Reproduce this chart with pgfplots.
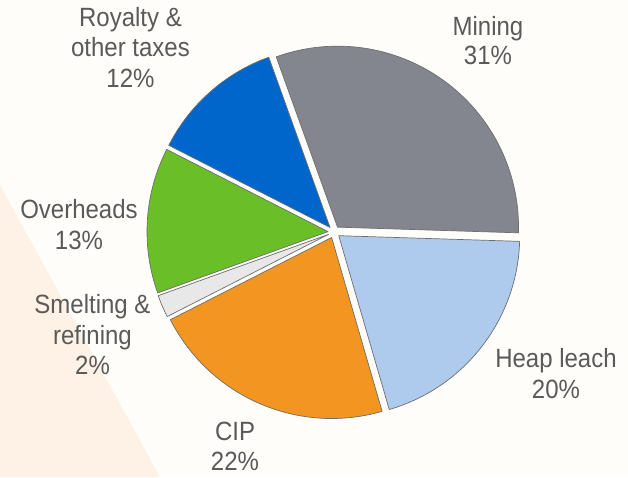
\documentclass[border=0pt]{standalone}
\usepackage{pgfplots}
\pgfplotsset{compat=1.18}
\usepackage{pgfplotstable}
\usepackage{fontspec}
\setmainfont{Liberation Sans}
\definecolor{bgcol}{HTML}{FFFDF9}
\definecolor{peach}{HTML}{FEF1E6}
\definecolor{txt}{HTML}{5A5A5A}
\definecolor{edgegray}{HTML}{6E6E6E}
\definecolor{cMining}{HTML}{83868F}
\definecolor{cHeap}{HTML}{AECBEE}
\definecolor{cCIP}{HTML}{F39621}
\definecolor{cSmelt}{HTML}{E8E8E8}
\definecolor{cOver}{HTML}{6ABF28}
\definecolor{cRoy}{HTML}{0066CC}
\tikzset{lbl/.style={anchor=base, text=txt, font=\fontsize{24}{29}\selectfont, inner sep=0pt, yscale=1.1, transform shape}}

\pgfplotstableread{
value color
31 cMining
20 cHeap
22 cCIP
2 cSmelt
13 cOver
12 cRoy
}\piedata

\begin{document}
\begin{tikzpicture}
\useasboundingbox (0,0) rectangle (628pt,477pt);
\fill[bgcol] (0,0) rectangle (628pt,477pt);
\fill[peach] (0pt,292pt) -- (160pt,0pt) -- (0pt,0pt) -- cycle;
\begin{axis}[
  at={(0,0)}, anchor=south west,
  scale only axis, width=628pt, height=477pt,
  xmin=0, xmax=628, ymin=0, ymax=477, y dir=reverse,
  hide axis, clip=false,
]
\pgfmathsetmacro\angstart{109.8}
\pgfplotsforeachungrouped \i in {0,...,5}{%
  \pgfplotstablegetelem{\i}{value}\of\piedata \let\val\pgfplotsretval
  \pgfplotstablegetelem{\i}{color}\of\piedata \let\col\pgfplotsretval
  \pgfmathsetmacro\angend{\angstart-3.6*\val}%
  \pgfmathsetmacro\midang{(\angstart+\angend)/2}%
  \pgfmathsetmacro\ox{334+6*cos(\midang)}%
  \pgfmathsetmacro\oy{232-6*sin(\midang)}%
  \edef\cmd{\noexpand\addplot[fill=\col, draw=edgegray, line width=0.7pt, line join=round, domain=\angend:\angstart, samples=80] ({\ox+181*cos(x)},{\oy-181*sin(x)}) -- (axis cs:\ox,\oy) -- cycle;}%
  \cmd
  \global\let\angstart\angend
}
\node[lbl] at (axis cs:130.5,26.7) {Royalty \&};
\node[lbl] at (axis cs:130.5,56.7) {other taxes};
\node[lbl] at (axis cs:130.5,87) {12\%};
\node[lbl] at (axis cs:488,35) {Mining};
\node[lbl] at (axis cs:488,64) {31\%};
\node[lbl] at (axis cs:556,367.3) {Heap leach};
\node[lbl] at (axis cs:556,398.3) {20\%};
\node[lbl] at (axis cs:235,440) {CIP};
\node[lbl] at (axis cs:235,470.7) {22\%};
\node[lbl] at (axis cs:92.5,313.3) {Smelting \&};
\node[lbl] at (axis cs:92.5,344.3) {refining};
\node[lbl] at (axis cs:92.5,374) {2\%};
\node[lbl] at (axis cs:79,218.3) {Overheads};
\node[lbl] at (axis cs:79,249.3) {13\%};
\end{axis}
\end{tikzpicture}
\end{document}
